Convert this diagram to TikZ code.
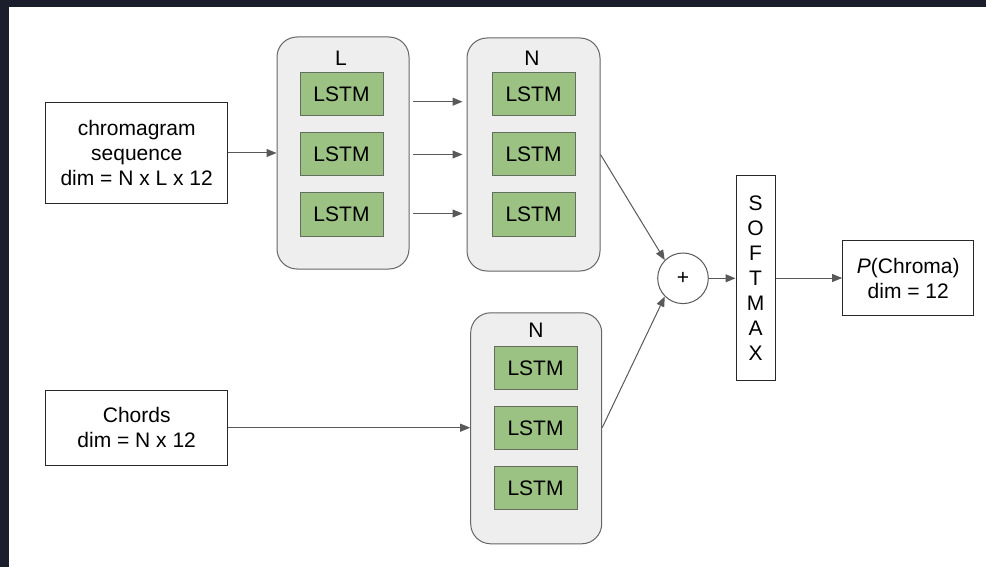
\documentclass[tikz,border=0pt]{standalone}
\usepackage{fontspec}
\setmainfont{Liberation Sans}
\usetikzlibrary{arrows.meta}
\definecolor{frameDark}{RGB}{27,31,43}
\definecolor{contFill}{RGB}{238,238,238}
\definecolor{contLine}{RGB}{102,102,102}
\definecolor{lstmFill}{RGB}{155,194,131}
\definecolor{lstmLine}{RGB}{100,110,95}
\definecolor{arrowGray}{RGB}{89,89,89}
\definecolor{boxLine}{RGB}{40,40,40}
\tikzset{
  txt/.style={font=\fontsize{21}{25}\selectfont, text=black},
  iobox/.style={txt, draw=boxLine, line width=1pt, fill=white, align=center, inner sep=0pt},
  container/.style={draw=contLine, fill=contFill, line width=1pt, rounded corners=20pt, minimum width=132pt, minimum height=232pt, inner sep=0pt},
  lstmbox/.style={txt, draw=lstmLine, fill=lstmFill, line width=1pt, minimum width=83pt, minimum height=43pt, inner sep=0pt},
  lbl/.style={txt, inner sep=0pt},
  conn/.style={draw=arrowGray, line width=1pt, -{Triangle[length=10pt,width=8pt]}},
}
\begin{document}
\begin{tikzpicture}[x=1pt,y=-1pt]
\useasboundingbox (0,0) rectangle (986,567);
\fill[frameDark] (0,0) rectangle (986,567);
\fill[white] (8.5,7) rectangle (986,567);

% inputs
\node[iobox, minimum width=182pt, minimum height=100.6pt] (chroma) at (136.7,153) {chromagram\\sequence\\dim = N x L x 12};
\node[iobox, minimum width=182pt, minimum height=75pt] (chords) at (136.7,427.7) {Chords\\dim = N x 12};

% L container
\node[container] (Lcont) at (343,153) {};
\node[lbl] (Llbl) at (341,58) {L};
\node[lstmbox] (L1) at (341.5,94.5) {LSTM};
\node[lstmbox] (L2) at (341.5,154.5) {LSTM};
\node[lstmbox] (L3) at (341.5,214.5) {LSTM};

% N top container
\node[container, minimum width=133pt, minimum height=233pt] (Ntop) at (533.5,154.5) {};
\node[lbl] (Ntlbl) at (532,58) {N};
\node[lstmbox] (N1) at (533.5,94.5) {LSTM};
\node[lstmbox] (N2) at (533.5,154.5) {LSTM};
\node[lstmbox] (N3) at (533.5,214.5) {LSTM};

% N bottom container
\node[container, minimum width=131pt, minimum height=231pt] (Nbot) at (536.2,428.3) {};
\node[lbl] (Nblbl) at (536,330.7) {N};
\node[lstmbox] (B1) at (535.5,368) {LSTM};
\node[lstmbox] (B2) at (535.5,428) {LSTM};
\node[lstmbox] (B3) at (535.5,488) {LSTM};

% plus, softmax, output
\node[txt, circle, draw=arrowGray, line width=1pt, fill=white, minimum size=50.6pt, inner sep=0pt] (plus) at (683,278.3) {+};
\node[iobox, minimum width=39pt, minimum height=205.7pt] (soft) at (755.5,278) {S\\O\\F\\T\\M\\A\\X};
\node[iobox, minimum width=131.3pt, minimum height=75pt] (out) at (908.3,278.2) {\textit{P}(Chroma)\\dim = 12};

% connectors
\draw[conn] (chroma.east) -- (Lcont.west |- chroma.east);
\draw[conn] (chords.east) -- (Nbot.west |- chords.east);
\coordinate (a1) at (413,101.7);
\coordinate (a2) at (413,154.5);
\coordinate (a3) at (413,213.5);
\draw[conn] (a1) -- ([xshift=-4pt]Ntop.west |- a1);
\draw[conn] (a2) -- ([xshift=-4pt]Ntop.west |- a2);
\draw[conn] (a3) -- ([xshift=-4pt]Ntop.west |- a3);
\draw[conn] (Ntop.east) -- (plus.135);
\draw[conn] (Nbot.east |- chords.east) -- (plus.225);
\draw[conn] (plus.east) -- (soft.west |- plus.east);
\draw[conn] (soft.east) -- (out.west |- soft.east);
\end{tikzpicture}
\end{document}
